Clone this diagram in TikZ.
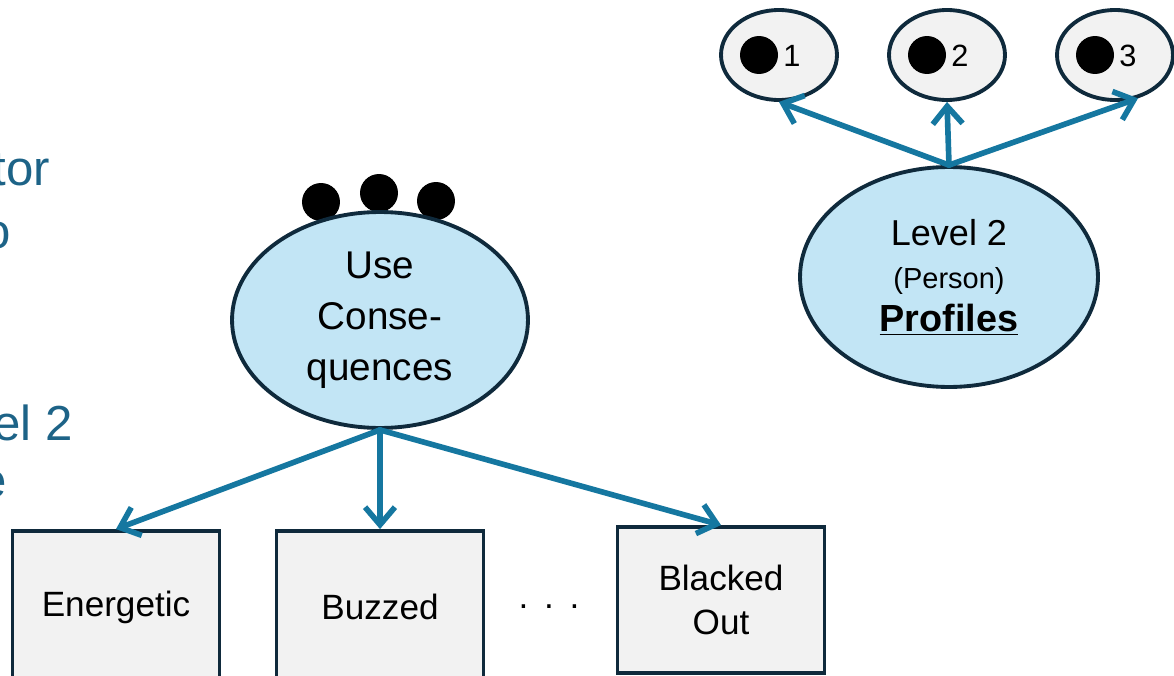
\documentclass[tikz,border=0pt]{standalone}
\usepackage{fontspec}
\setmainfont{Liberation Sans}
\usetikzlibrary{shapes.geometric,arrows.meta}

\definecolor{linkblue}{HTML}{1577A0}
\definecolor{latentfill}{HTML}{C2E5F5}
\definecolor{edgenavy}{HTML}{0F2A3C}
\definecolor{boxgrey}{HTML}{F2F2F2}
\definecolor{slidetext}{HTML}{1D6387}

\begin{document}
\begin{tikzpicture}[x=0.02cm,y=-0.02cm,
  every node/.style={font=\fontsize{20}{25}\selectfont},
  >={Straight Barb[length=10pt,width=17pt]},
  latent/.style={ellipse,draw=edgenavy,line width=2.2pt,fill=latentfill,
    inner sep=0pt,minimum width=5.92cm,minimum height=4.32cm,align=center},
  profile/.style={ellipse,draw=edgenavy,line width=2.2pt,fill=boxgrey,
    inner sep=0pt,minimum width=2.32cm,minimum height=1.8cm},
  item/.style={rectangle,draw=edgenavy,line width=2.2pt,fill=boxgrey,
    inner sep=0pt,minimum width=4.14cm,align=center},
  blob/.style={circle,fill=black,inner sep=0pt,minimum size=0.76cm},
  path/.style={draw=linkblue,line width=3.2pt,line cap=round,line join=round,->},
  slide/.style={text=slidetext,anchor=base east,font=\fontsize{28}{32}\selectfont}]

\useasboundingbox (0,0) rectangle (1174,676);
\clip (0,0) rectangle (1174,676);

% text running in from the left edge
\node[slide] (sa) at (56,185) {tor};
\node[slide] (sb) at (17,248) {o};
\node[slide] (sc) at (79,440) {el 2};
\node[slide] (sd) at (13,497) {e};

% dots sitting on top of the factor
\node[blob] (b1) at (321,202) {};
\node[blob] (b2) at (379,193) {};
\node[blob] (b3) at (436,201) {};

\node[latent,font=\fontsize{22}{29}\selectfont] (Use) at (380,320) {Use\\Conse-\\quences};

\node[latent,minimum width=5.96cm,minimum height=4.4cm,
  font=\fontsize{20.5}{24.5}\selectfont] (L2) at (949,277)
  {Level 2\\{\fontsize{16.5}{24.5}\selectfont (Person)}\\
   {\fontsize{21.5}{24.5}\selectfont\underline{\textbf{Profiles}}}};

% the three profiles
\foreach \i/\px in {1/779,2/947,3/1115}{
  \node[profile] (P\i) at (\px,55) {};
  \node[blob] (D\i) at (\px-20,55) {};
  \node[anchor=west,inner sep=0pt,font=\fontsize{17.5}{20}\selectfont]
    (N\i) at (\px+4,56) {\i};
}

% indicators
\node[item,minimum height=3.04cm] (En) at (116,607) {Energetic};
\node[item,minimum height=3.04cm] (Bz) at (380,607) {Buzzed};
\node (dots) at (549,607) {.\hspace{0.45em}.\hspace{0.45em}.};
\node[item,minimum height=2.92cm] (Bo) at (721,600) {Blacked\\Out};

\draw[path] (Use.south) -- (En.north);
\draw[path] (Use.south) -- (Bz.north);
\draw[path] (Use.south) -- (Bo.north);

\draw[path] (L2.north) -- (P1.south);
\draw[path] (L2.north) -- (P2.south);
\draw[path] (L2.north) -- (P3.-62);

\end{tikzpicture}
\end{document}
